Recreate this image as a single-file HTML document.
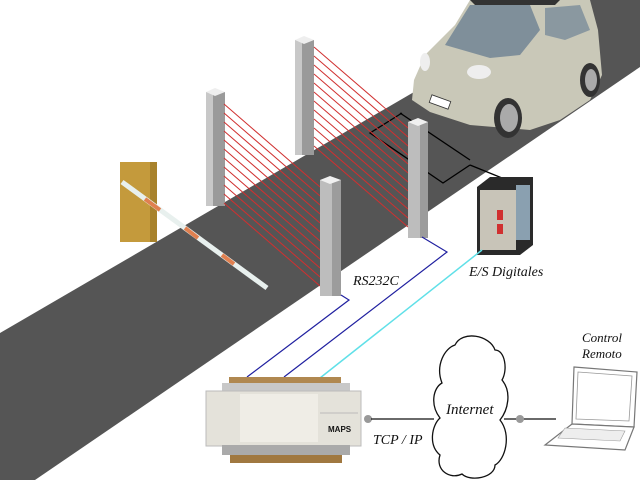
<!DOCTYPE html>
<html><head><meta charset="utf-8"><style>
html,body{margin:0;padding:0;background:#fff;}
svg{display:block}
text{font-family:"Liberation Serif",serif;font-style:italic;fill:#111}
</style></head><body>
<svg width="640" height="480" viewBox="0 0 640 480" xmlns="http://www.w3.org/2000/svg">
<rect width="640" height="480" fill="#fff"/>
<polygon points="0,333 572,0 640,0 640,67 35,480 0,480" fill="#555555"/>
<polyline points="402,113 370,133 443,183 470,165" fill="none" stroke="#000" stroke-width="1.3"/>
<line x1="400" y1="113" x2="470" y2="160" stroke="#000" stroke-width="1.3"/>
<line x1="470" y1="165" x2="502" y2="178" stroke="#000" stroke-width="1.3"/>
<rect x="120" y="162" width="37" height="80" fill="#c49a3c"/>
<rect x="150" y="162" width="7" height="80" fill="#a8822c"/>
<line x1="122" y1="182" x2="267" y2="288" stroke="#e8f0ee" stroke-width="5"/>
<line x1="145" y1="199" x2="160" y2="210" stroke="#e08050" stroke-width="4"/>
<line x1="185" y1="228" x2="198" y2="238" stroke="#e08050" stroke-width="4"/>
<line x1="222" y1="255" x2="234" y2="264" stroke="#e08050" stroke-width="4"/>
<rect x="206" y="92" width="19" height="114" fill="#9a9a9a"/>
<rect x="206" y="92" width="7" height="114" fill="#c8c8c8"/>
<polygon points="206,92 215,88 225,92 215,96" fill="#eee"/>
<rect x="295" y="40" width="19" height="115" fill="#9a9a9a"/>
<rect x="295" y="40" width="7" height="115" fill="#c8c8c8"/>
<polygon points="295,40 304,36 314,40 304,44" fill="#eee"/>
<g stroke="#d03030" stroke-width="1">
<line x1="224" y1="104" x2="320" y2="187"/><line x1="224" y1="113" x2="320" y2="196"/>
<line x1="224" y1="122" x2="320" y2="205"/><line x1="224" y1="131" x2="320" y2="214"/>
<line x1="224" y1="140" x2="320" y2="223"/><line x1="224" y1="149" x2="320" y2="232"/>
<line x1="224" y1="158" x2="320" y2="241"/><line x1="224" y1="167" x2="320" y2="250"/>
<line x1="224" y1="176" x2="320" y2="259"/><line x1="224" y1="185" x2="320" y2="268"/>
<line x1="224" y1="194" x2="320" y2="277"/><line x1="224" y1="203" x2="320" y2="286"/>
<line x1="314" y1="47" x2="408" y2="128"/><line x1="314" y1="56" x2="408" y2="137"/>
<line x1="314" y1="65" x2="408" y2="146"/><line x1="314" y1="74" x2="408" y2="155"/>
<line x1="314" y1="83" x2="408" y2="164"/><line x1="314" y1="92" x2="408" y2="173"/>
<line x1="314" y1="101" x2="408" y2="182"/><line x1="314" y1="110" x2="408" y2="191"/>
<line x1="314" y1="119" x2="408" y2="200"/><line x1="314" y1="128" x2="408" y2="209"/>
<line x1="314" y1="137" x2="408" y2="218"/><line x1="314" y1="146" x2="408" y2="227"/>
</g>
<rect x="320" y="180" width="21" height="116" fill="#bdbdbd"/>
<rect x="332" y="180" width="9" height="116" fill="#9c9c9c"/>
<polygon points="320,180 330,176 341,180 330,184" fill="#f0f0f0"/>
<rect x="408" y="122" width="20" height="116" fill="#bdbdbd"/>
<rect x="420" y="122" width="8" height="116" fill="#9c9c9c"/>
<polygon points="408,122 418,118 428,122 418,126" fill="#f0f0f0"/>
<g>
<path d="M470,0 L590,0 L598,30 L602,75 L590,100 L560,120 L530,130 L470,125 L430,112 L412,100 L414,80 L425,55 L455,25 Z" fill="#c9c8b8"/>
<path d="M470,0 L560,0 L555,5 L475,5 Z" fill="#333"/>
<path d="M470,5 L530,5 L540,30 L520,55 L490,58 L445,45 Z" fill="#7f8f9a"/>
<path d="M545,8 L580,5 L590,30 L565,40 L545,35 Z" fill="#8a98a0"/>
<ellipse cx="508" cy="118" rx="14" ry="20" fill="#333"/>
<ellipse cx="509" cy="118" rx="9" ry="14" fill="#aaa"/>
<ellipse cx="590" cy="80" rx="10" ry="17" fill="#333"/>
<ellipse cx="591" cy="80" rx="6" ry="11" fill="#aaa"/>
<rect x="430" y="98" width="20" height="8" fill="#fff" stroke="#333" stroke-width="0.8" transform="rotate(20 440 102)"/>
<ellipse cx="479" cy="72" rx="12" ry="7" fill="#eee"/>
<ellipse cx="425" cy="62" rx="5" ry="9" fill="#eee"/>
</g>
<polygon points="477,187 490,177 533,177 533,245 520,255 477,255" fill="#2a2a2a"/>
<rect x="480" y="190" width="36" height="60" fill="#c8c4b8"/>
<rect x="516" y="185" width="14" height="55" fill="#8aa0b0"/>
<rect x="497" y="210" width="6" height="10" fill="#d03030"/>
<rect x="497" y="224" width="6" height="10" fill="#d03030"/>
<polyline points="341,295 349,300 247,377" fill="none" stroke="#2020a0" stroke-width="1.2"/>
<polyline points="422,237 447,252 284,377" fill="none" stroke="#2020a0" stroke-width="1.2"/>
<line x1="482" y1="250" x2="320" y2="378" stroke="#60e0e8" stroke-width="1.5"/>
<rect x="229" y="377" width="112" height="8" fill="#b08850"/>
<rect x="222" y="383" width="128" height="10" fill="#c8c8c8"/>
<rect x="206" y="391" width="155" height="55" fill="#e4e2da" stroke="#bbb"/>
<rect x="240" y="394" width="78" height="48" fill="#efede6"/>
<line x1="320" y1="413" x2="358" y2="413" stroke="#bbb"/>
<text x="328" y="432" font-size="8" style="font-style:normal;font-family:'Liberation Sans',sans-serif;font-weight:bold" fill="#555">MAPS</text>
<rect x="222" y="445" width="128" height="10" fill="#aaa"/>
<rect x="230" y="455" width="112" height="8" fill="#a07840"/>
<circle cx="368" cy="419" r="4" fill="#999"/>
<line x1="371" y1="419" x2="434" y2="419" stroke="#111" stroke-width="1.2"/>
<text x="373" y="444" font-size="14">TCP / IP</text>
<path d="M455,345 C462,330 490,335 495,350 C505,350 508,370 502,380 C512,392 508,410 500,420 C512,435 505,460 495,465 C495,478 470,482 462,474 C450,480 435,470 440,455 C428,445 432,425 440,418 C430,405 433,388 442,383 C435,365 445,348 455,345 Z" fill="#fff" stroke="#111" stroke-width="1.3"/>
<text x="446" y="414" font-size="15">Internet</text>
<line x1="504" y1="419" x2="556" y2="419" stroke="#111" stroke-width="1.2"/>
<circle cx="520" cy="419" r="4" fill="#999"/>
<polygon points="574,367 637,372 634,427 572,424" fill="#fff" stroke="#777" stroke-width="1.2"/>
<polygon points="578,372 632,376 629,421 576,419" fill="#fff" stroke="#999" stroke-width="0.8"/>
<polygon points="572,424 634,427 625,450 545,445" fill="#fff" stroke="#777" stroke-width="1.2"/>
<polygon points="565,428 625,431 620,441 558,438" fill="#eee" stroke="#999" stroke-width="0.6"/>
<text x="582" y="342" font-size="13">Control</text>
<text x="582" y="358" font-size="13">Remoto</text>
<text x="353" y="285" font-size="14">RS232C</text>
<text x="469" y="276" font-size="14">E/S Digitales</text>
</svg>
</body></html>
